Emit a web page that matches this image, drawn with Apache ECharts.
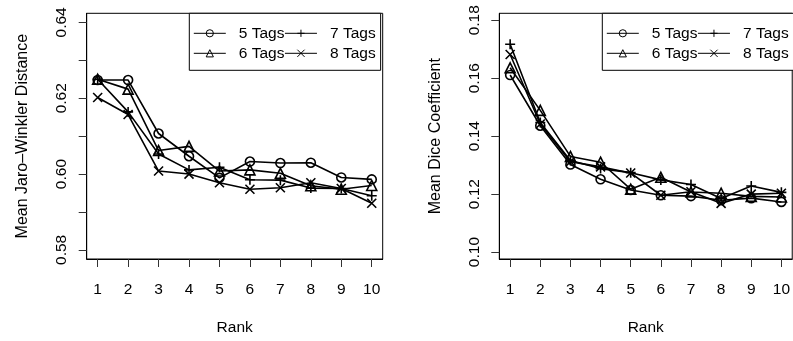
<!DOCTYPE html>
<html>
<head>
<meta charset="utf-8">
<script src="https://cdn.jsdelivr.net/npm/echarts@6.0.0/dist/echarts.min.js"></script>
<style>
  html, body { margin: 0; padding: 0; background: #fff; }
  #chart { width: 793px; height: 341px; }
</style>
</head>
<body>
<div id="chart"></div>
<script>
// ranks on the x axis of both panels
const ranks = [1, 2, 3, 4, 5, 6, 7, 8, 9, 10];
const tagNames = ['5 Tags', '6 Tags', '7 Tags', '8 Tags'];
const legendOrder = ['5 Tags', '7 Tags', '6 Tags', '8 Tags'];

// left panel: mean Jaro-Winkler distance
const jaro5 = [0.6248, 0.6248, 0.6107, 0.6047, 0.5990, 0.6033, 0.6029, 0.6030, 0.5991, 0.5986];
const jaro6 = [0.6250, 0.6224, 0.6062, 0.6073, 0.6008, 0.6011, 0.6002, 0.5969, 0.5960, 0.5970];
const jaro7 = [0.6250, 0.6164, 0.6053, 0.6011, 0.6018, 0.5985, 0.5984, 0.5963, 0.5962, 0.5943];
const jaro8 = [0.6202, 0.6157, 0.6008, 0.6000, 0.5977, 0.5960, 0.5964, 0.5977, 0.5962, 0.5923];

// right panel: mean Dice coefficient
const dice5 = [0.1611, 0.1436, 0.1302, 0.1251, 0.1214, 0.1196, 0.1193, 0.1179, 0.1186, 0.1173];
const dice6 = [0.1636, 0.1489, 0.1330, 0.1310, 0.1217, 0.1258, 0.1207, 0.1203, 0.1192, 0.1190];
const dice7 = [0.1717, 0.1447, 0.1316, 0.1288, 0.1274, 0.1249, 0.1233, 0.1185, 0.1228, 0.1206];
const dice8 = [0.1682, 0.1442, 0.1312, 0.1294, 0.1273, 0.1196, 0.1208, 0.1168, 0.1200, 0.1203];

// tick values
const jaroTicks = [0.58, 0.59, 0.60, 0.61, 0.62, 0.63, 0.64];
const jaroLabels = [0.58, 0.60, 0.62, 0.64];
const diceTicks = [0.10, 0.12, 0.14, 0.16, 0.18];

const font = '"Liberation Sans", Arial, Helvetica, sans-serif';
const fontSize = 15.5;

// R pch 1, 2, 3, 4
const markers = [
  'circle',
  'triangle',
  'path://M5,0L5,10M0,5L10,5',
  'path://M0,0L10,10M10,0L0,10'
];
const markerSizes = [9, 10, 10, 9];

function makeSeries(values, idx, axisIdx) {
  return {
    name: tagNames[idx],
    type: 'line',
    xAxisIndex: axisIdx,
    yAxisIndex: axisIdx,
    data: ranks.map((r, i) => [r, values[i]]),
    symbol: markers[idx],
    symbolSize: markerSizes[idx],
    symbolKeepAspect: true,
    showAllSymbol: true,
    lineStyle: { color: '#000', width: 1.6 },
    itemStyle: { color: 'transparent', borderColor: '#000', borderWidth: 1.6 },
    emphasis: { disabled: true },
    animation: false
  };
}

function xAxis(gridIndex) {
  return {
    type: 'value',
    gridIndex,
    min: 0.64,
    max: 10.36,
    name: 'Rank',
    nameLocation: 'middle',
    nameGap: 61,
    nameTextStyle: { color: '#000', fontSize, fontFamily: font },
    axisLine: { show: true, lineStyle: { color: '#000', width: 1 } },
    axisTick: { show: true, length: 8, customValues: ranks, lineStyle: { color: '#333' } },
    axisLabel: {
      customValues: ranks,
      margin: 23,
      color: '#000',
      fontSize,
      fontFamily: font
    },
    splitLine: { show: false }
  };
}

function yAxis(gridIndex, min, max, ticks, labels, title) {
  return {
    type: 'value',
    gridIndex,
    min,
    max,
    name: title,
    nameLocation: 'middle',
    nameGap: 56,
    nameRotate: 90,
    nameTextStyle: { color: '#000', fontSize: 16, fontFamily: font },
    axisLine: { show: true, lineStyle: { color: '#000', width: 1 } },
    axisTick: { show: true, length: 8, customValues: ticks, lineStyle: { color: '#333' } },
    axisLabel: {
      customValues: labels,
      rotate: 90,
      margin: 17,
      color: '#000',
      fontSize,
      fontFamily: font,
      formatter: v => v.toFixed(2)
    },
    splitLine: { show: false }
  };
}

function legend(left) {
  return {
    data: legendOrder,
    left,
    top: 13.3,
    width: 190,
    orient: 'horizontal',
    itemWidth: 32,
    itemHeight: 9,
    itemGap: 0,
    padding: [10, 5, 7, 4],
    borderColor: '#000',
    borderWidth: 1,
    backgroundColor: '#fff',
    selectedMode: false,
    lineStyle: { width: 1 },
    itemStyle: { borderWidth: 1 },
    textStyle: {
      color: '#000',
      fontSize,
      fontFamily: font,
      lineHeight: 20,
      padding: [0, 0, 0, 8]
    }
  };
}

const chart = echarts.init(document.getElementById('chart'));

chart.setOption({
  animation: false,
  textStyle: { fontFamily: font },
  grid: [
    { left: 86.7, top: 13.3, width: 296, height: 250, show: true, borderColor: '#000', borderWidth: 1, backgroundColor: 'transparent' },
    { left: 499.3, top: 13.3, width: 297.7, height: 250, show: true, borderColor: '#000', borderWidth: 1, backgroundColor: 'transparent' }
  ],
  xAxis: [xAxis(0), xAxis(1)],
  yAxis: [
    yAxis(0, 0.5776, 0.6424, jaroTicks, jaroLabels, 'Mean Jaro\u2013Winkler Distance'),
    yAxis(1, 0.0976, 0.1824, diceTicks, diceTicks, 'Mean Dice Coefficient')
  ],
  legend: [legend(189.3), legend(602.3)],
  series: [
    makeSeries(jaro5, 0, 0),
    makeSeries(jaro6, 1, 0),
    makeSeries(jaro7, 2, 0),
    makeSeries(jaro8, 3, 0),
    makeSeries(dice5, 0, 1),
    makeSeries(dice6, 1, 1),
    makeSeries(dice7, 2, 1),
    makeSeries(dice8, 3, 1)
  ]
});

window.addEventListener('resize', () => chart.resize());
</script>
</body>
</html>
